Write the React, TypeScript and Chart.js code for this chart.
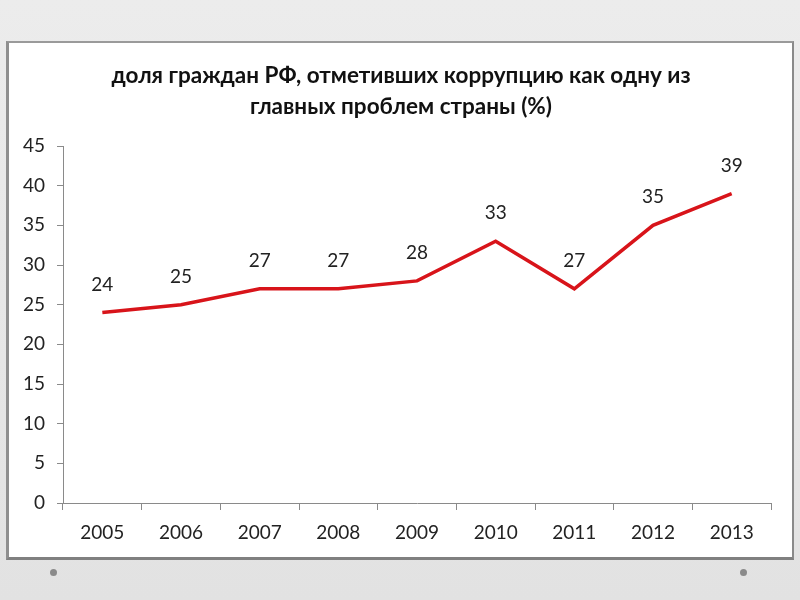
import React, { useEffect, useRef } from "react";
import { Chart, registerables } from "chart.js";

Chart.register(...registerables);

const years = ["2005", "2006", "2007", "2008", "2009", "2010", "2011", "2012", "2013"];
const shares = [24, 25, 27, 27, 28, 33, 27, 35, 39];
const yTicks = [0, 5, 10, 15, 20, 25, 30, 35, 40, 45];
const titleLines = [
  "доля граждан РФ, отметивших коррупцию как одну из",
  "главных проблем страны (%)",
];

const FONT = "Lato, 'Open Sans', sans-serif";

const overlay = {
  id: "overlay",
  afterDatasetsDraw(chart: any) {
    const ctx = chart.ctx;
    ctx.save();
    // title
    ctx.fillStyle = "#111";
    ctx.font = `bold 22.5px ${FONT}`;
    ctx.textAlign = "center";
    ctx.textBaseline = "middle";
    ctx.fillText(titleLines[0], 401, 76);
    ctx.fillText(titleLines[1], 401, 107);
    // data labels
    const meta = chart.getDatasetMeta(0);
    ctx.font = `19px ${FONT}`;
    ctx.fillStyle = "#222";
    meta.data.forEach((pt: any, i: number) => {
      ctx.fillText(String(shares[i]), pt.x, pt.y - 28);
    });
    ctx.restore();
  },
};

export default function App() {
  const ref = useRef<HTMLCanvasElement>(null);
  useEffect(() => {
    if (!ref.current) return;
    const chart = new Chart(ref.current, {
      type: "line",
      data: {
        labels: years,
        datasets: [
          {
            data: shares,
            borderColor: "#d8141a",
            borderWidth: 3.5,
            pointRadius: 0,
            tension: 0,
            fill: false,
          },
        ],
      },
      options: {
        responsive: false,
        animation: false,
        layout: { padding: { top: 146, right: 29, left: 0, bottom: 0 } },
        plugins: { legend: { display: false }, title: { display: false }, tooltip: { enabled: false } },
        scales: {
          x: {
            offset: true,
            grid: { offset: true, drawOnChartArea: false, drawTicks: true, tickLength: 7, color: "#8a8a8a" },
            border: { display: true, color: "#8a8a8a", width: 1 },
            ticks: { color: "#222", font: { family: FONT, size: 19 }, padding: 11, maxRotation: 0, autoSkip: false },
            afterFit: (s: any) => { s.height = 97; },
          },
          y: {
            min: 0,
            max: 45,
            afterBuildTicks: (s: any) => { s.ticks = yTicks.map((v) => ({ value: v })); },
            grid: { drawOnChartArea: false, drawTicks: true, tickLength: 6, color: "#8a8a8a" },
            border: { display: true, color: "#8a8a8a", width: 1 },
            ticks: { color: "#222", font: { family: FONT, size: 19 }, padding: 12 },
            afterFit: (s: any) => { s.width = 63; },
          },
        },
      },
      plugins: [overlay],
    });
    return () => chart.destroy();
  }, []);

  return (
    <div
      style={{
        position: "fixed",
        left: 0,
        top: 0,
        width: 800,
        height: 600,
        background: "linear-gradient(180deg, #ececec 0%, #e2e2e2 100%)",
        overflow: "hidden",
      }}
    >
      <div
        style={{
          position: "absolute",
          left: 6,
          top: 41,
          width: 783,
          height: 514,
          background: "#fff",
          borderTop: "2px solid #9a9a9a",
          borderRight: "2px solid #8a8a8a",
          borderLeft: "3px solid #8f8f8f",
          borderBottom: "3px solid #808080",
        }}
      />
      <div style={{ position: "absolute", left: 50, top: 569, width: 7, height: 7, borderRadius: "50%", background: "#8a8a8a" }} />
      <div style={{ position: "absolute", left: 740, top: 569, width: 7, height: 7, borderRadius: "50%", background: "#8a8a8a" }} />
      <canvas ref={ref} width={800} height={600} style={{ position: "absolute", left: 0, top: 0 }} />
    </div>
  );
}
